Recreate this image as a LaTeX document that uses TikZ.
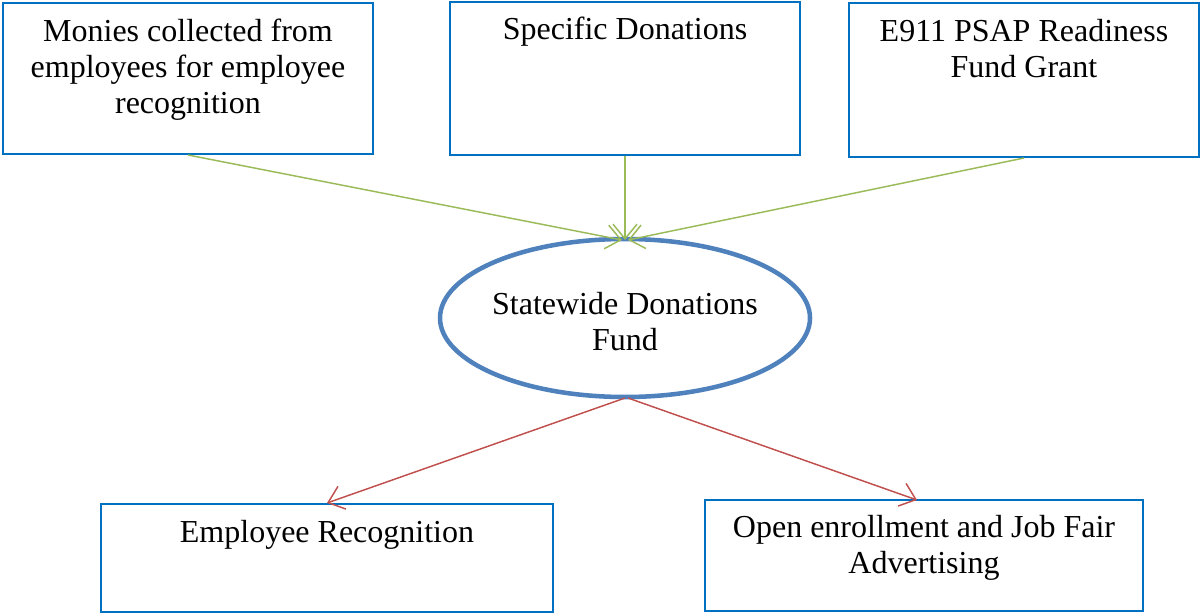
\documentclass[tikz,border=0pt]{standalone}
\usepackage{fontspec}
\setmainfont{Liberation Serif}
\usetikzlibrary{arrows.meta,shapes.geometric}
\definecolor{boxblue}{RGB}{0,112,192}
\definecolor{ellblue}{RGB}{79,129,189}
\definecolor{arrgreen}{RGB}{155,187,89}
\definecolor{arrred}{RGB}{192,80,77}
\tikzset{
  box/.style={draw=boxblue, line width=1.5pt, rectangle, inner sep=0pt},
  txt/.style={anchor=north, align=center, inner sep=0pt, font=\fontsize{24}{27}\selectfont},
  garrow/.style={draw=arrgreen, line width=1.1pt, -{Straight Barb[length=11pt,width=18pt,line width=1.1pt]}},
  rarrow/.style={draw=arrred, line width=1.1pt, -{Straight Barb[length=11pt,width=18pt,line width=1.1pt]}},
}
\begin{document}
\begin{tikzpicture}[x=0.75pt,y=-0.75pt]
\useasboundingbox (0,0) rectangle (1201,614);
% boxes
\node[box, minimum width=370*0.75pt, minimum height=151*0.75pt] (b1) at (188,78.5) {};
\node[box, minimum width=350*0.75pt, minimum height=153*0.75pt] (b2) at (625,78.5) {};
\node[box, minimum width=350*0.75pt, minimum height=154*0.75pt] (b3) at (1024,80) {};
\node[box, minimum width=452*0.75pt, minimum height=108*0.75pt] (b4) at (327,558) {};
\node[box, minimum width=438*0.75pt, minimum height=111*0.75pt] (b5) at (924,555.5) {};
% ellipse
\node[draw=ellblue, line width=3.4pt, ellipse, minimum width=370*0.75pt, minimum height=158*0.75pt, inner sep=0pt] (e) at (625,318) {};
% texts
\node[txt] (t1) at (188,19) {Monies collected from\\employees for employee\\recognition};
\node[txt] (t2) at (625,17) {Specific Donations};
\node[txt] (t3) at (1024,19) {E911 PSAP Readiness\\Fund Grant};
\node[txt] (te) at (625,292) {Statewide Donations\\Fund};
\node[txt] (t4) at (327,520) {Employee Recognition};
\node[txt] (t5) at (924,515) {Open enrollment and Job Fair\\Advertising};
% connectors
\coordinate (ein1) at (622,240);
\coordinate (ein2) at (625,240);
\coordinate (ein3) at (628,240);
\coordinate (eout1) at (625,398);
\coordinate (eout2) at (628,398);
\draw[garrow] (b1.south) -- (ein1);
\draw[garrow] (b2.south) -- (ein2);
\draw[garrow] (b3.south) -- (ein3);
\draw[rarrow] (eout1) -- (b4.north);
\draw[rarrow] (eout2) -- (917,500);
\end{tikzpicture}
\end{document}
